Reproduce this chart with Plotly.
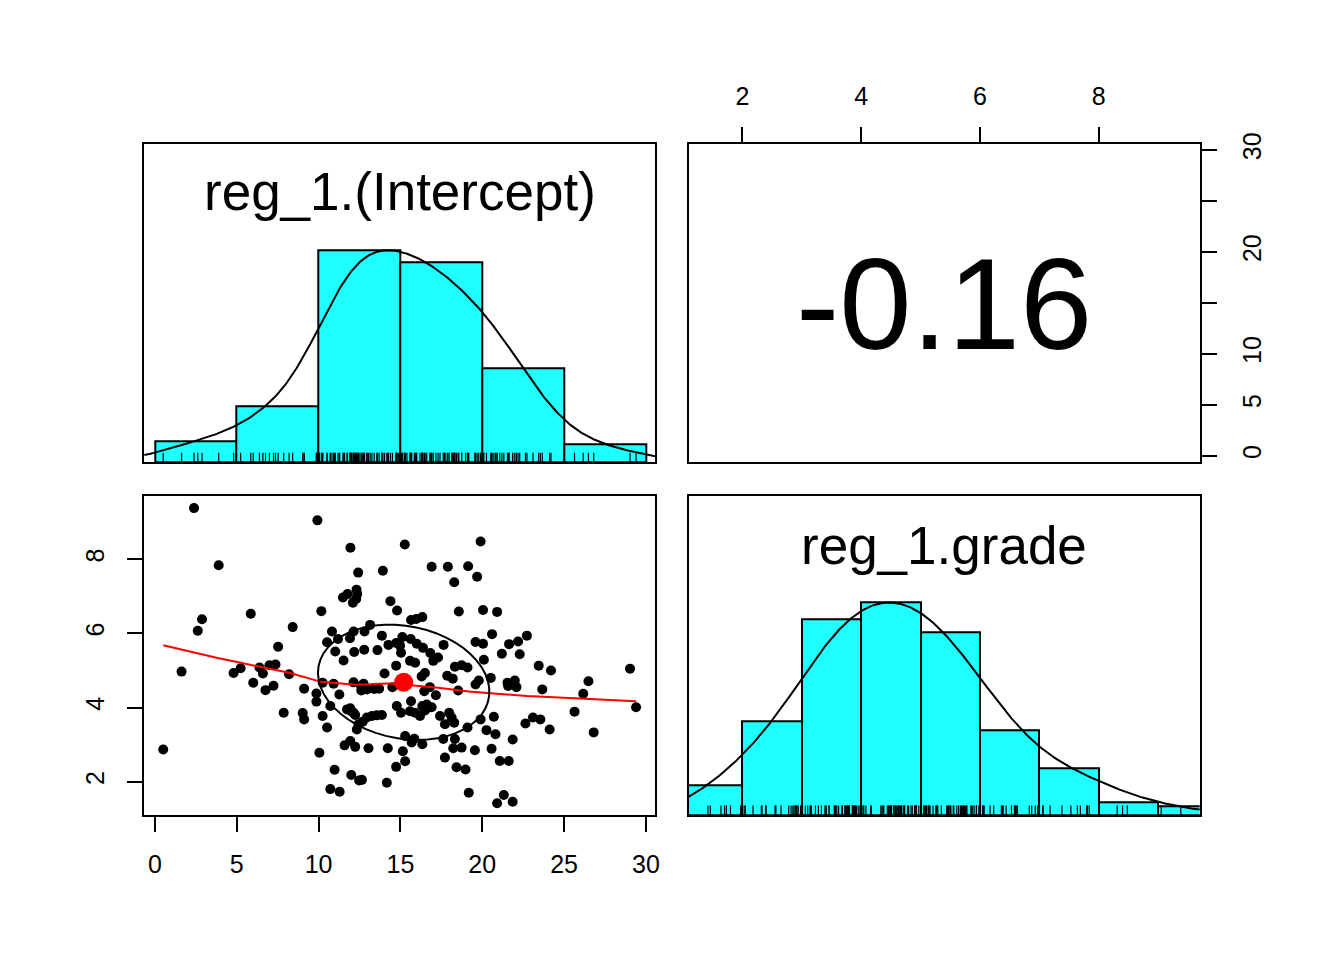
import numpy as np
import plotly.graph_objects as go

# --- values (psych::pairs.panels of two coefficients) ---
LABELS = ["reg_1.(Intercept)", "reg_1.grade"]

INTERCEPT = [
    2.39, 3.90, 2.88, 2.62, 5.86, 8.42, 7.53, 9.93, 11.95, 15.27,
    19.90, 12.42, 13.93, 16.91, 17.90, 19.14, 19.69, 18.29, 11.49, 11.77,
    12.32, 12.36, 12.10, 10.17, 14.39, 14.80, 18.57, 20.05, 15.65, 15.97,
    16.34, 13.15, 10.82, 12.14, 12.81, 10.52, 11.19, 11.92, 13.87, 14.27,
    14.74, 14.98, 15.12, 15.63, 16.38, 17.64, 19.59, 20.05, 11.02, 12.18,
    12.79, 15.04, 16.83, 20.91, 20.60, 21.64, 22.19, 22.73, 22.29, 1.63,
    4.81, 5.24, 6.39, 6.60, 7.00, 7.37, 8.20, 6.01, 6.76, 7.25,
    9.12, 9.87, 9.87, 7.87, 9.03, 9.12, 0.51, 10.05, 11.53, 15.59,
    15.90, 17.01, 14.74, 18.33, 18.74, 19.10, 14.03, 16.30, 16.50, 17.86,
    19.59, 19.79, 10.25, 10.92, 12.14, 12.61, 12.97, 13.40, 12.75, 14.51,
    16.46, 17.17, 18.53, 10.72, 11.27, 11.74, 11.94, 12.14, 12.24, 12.44,
    12.34, 12.95, 13.26, 13.56, 13.87, 14.78, 15.04, 15.65, 15.59, 15.90,
    16.20, 16.34, 16.61, 16.91, 17.42, 17.98, 18.13, 18.29, 17.72, 19.10,
    19.90, 10.25, 10.52, 15.29, 15.69, 15.85, 16.34, 17.62, 18.33, 18.23,
    18.74, 19.55, 11.59, 11.94, 12.24, 13.05, 14.23, 15.15, 15.29, 14.74,
    17.72, 18.43, 18.98, 10.98, 12.00, 12.48, 12.65, 14.17, 10.72, 11.29,
    19.18, 20.10, 23.45, 24.20, 29.03, 20.52, 21.54, 21.99, 22.09, 21.58,
    23.67, 26.49, 26.17, 29.40, 25.64, 20.71, 22.64, 23.10, 23.55, 24.12,
    26.81, 20.26, 20.81, 21.86, 20.57, 21.07, 21.62, 21.32, 20.91, 21.86,
    12.30, 13.70, 12.00, 14.90, 15.40, 16.80, 18.20, 12.60, 16.00, 17.30,
    13.60, 21.20, 12.70, 16.50,
]

GRADE = [
    9.38, 7.84, 6.38, 6.07, 6.53, 6.17, 5.64, 9.05, 8.31, 8.40,
    8.48, 7.64, 7.69, 7.80, 7.80, 7.81, 7.53, 7.38, 6.97, 7.06,
    7.18, 7.06, 6.83, 6.60, 6.87, 6.62, 6.59, 6.63, 6.36, 6.39,
    6.44, 6.23, 6.05, 6.05, 6.05, 5.76, 5.85, 5.87, 5.94, 5.69,
    5.74, 5.67, 5.90, 5.85, 5.61, 5.69, 5.77, 5.72, 5.51, 5.50,
    5.56, 5.48, 5.47, 6.58, 5.98, 5.71, 5.78, 5.94, 5.44, 4.97,
    4.93, 5.06, 5.08, 4.92, 5.14, 5.16, 4.90, 4.67, 4.47, 4.59,
    4.51, 4.38, 4.16, 3.86, 3.85, 3.68, 2.87, 2.78, 5.27, 5.26,
    5.21, 5.26, 5.13, 5.10, 5.14, 5.08, 4.92, 4.84, 4.93, 4.86,
    4.62, 4.73, 4.67, 4.64, 4.68, 4.46, 4.49, 4.50, 4.64, 4.55,
    4.44, 4.33, 4.46, 4.04, 4.35, 3.95, 3.98, 3.86, 3.80, 3.55,
    3.41, 3.73, 3.77, 3.79, 3.80, 4.04, 3.86, 4.17, 3.90, 3.86,
    3.77, 4.04, 4.08, 4.01, 3.77, 3.86, 3.73, 3.59, 3.55, 3.46,
    3.68, 3.77, 3.46, 3.23, 3.06, 3.16, 3.01, 3.15, 3.15, 2.90,
    2.92, 2.85, 2.98, 3.10, 2.94, 2.90, 2.90, 2.82, 2.55, 2.40,
    2.65, 2.39, 2.33, 2.32, 2.18, 2.03, 2.05, 1.97, 1.80, 1.73,
    1.70, 5.29, 5.13, 5.00, 5.05, 4.80, 4.67, 4.73, 4.55, 4.58,
    4.49, 4.71, 4.37, 4.01, 3.89, 3.75, 3.57, 3.73, 3.68, 3.41,
    3.33, 3.39, 3.28, 3.14, 2.89, 2.56, 2.56, 1.64, 1.42, 1.46,
    6.93, 4.51, 3.90, 4.62, 4.72, 4.55, 4.78, 4.58, 5.72, 5.35,
    5.55, 5.45, 3.62, 3.92,
]

INTERCEPT_BREAKS = [0, 5, 10, 15, 20, 25, 30]
GRADE_BREAKS = [1, 2, 3, 4, 5, 6, 7, 8, 9, 10]
CORRELATION = -0.16

INTERCEPT_TICKS = [0, 5, 10, 15, 20, 25, 30]
GRADE_TICKS = [2, 4, 6, 8]
RIGHT_TICK_TEXT = ["0", "5", "10", "", "20", "", "30"]

HIST_COL = "#20FFFF"
FONT = "Liberation Sans, Arial, Helvetica, sans-serif"
PAD = 8  # default body margin of the page
W, H = 1344 - PAD, 960 - PAD


def px_x(p):
    return (p - PAD) / W


def px_y(p):
    return 1 - (p - PAD) / H


def pad_range(v):
    v = np.asarray(v, float)
    span = v.max() - v.min()
    return [v.min() - 0.04 * span, v.max() + 0.04 * span]


def hist_counts(values, breaks):
    # R style: right-closed bins, lowest included
    v = np.asarray(values, float)
    b = np.asarray(breaks, float)
    idx = np.searchsorted(b, v, side="left") - 1
    idx[v == b[0]] = 0
    return np.bincount(idx, minlength=len(b) - 1)


def density_curve(values, adjust=1.2, n=512, cut=3):
    v = np.asarray(values, float)
    q1, q3 = np.percentile(v, [25, 75])
    bw = 1.06 * min(v.std(ddof=1), (q3 - q1) / 1.34) * len(v) ** -0.2 * adjust
    grid = np.linspace(v.min() - cut * bw, v.max() + cut * bw, n)
    dens = np.exp(-0.5 * ((grid[:, None] - v[None, :]) / bw) ** 2).sum(axis=1)
    return grid, dens / dens.max()


def lowess(x, y, f=2 / 3, iters=3):
    order = np.argsort(x, kind="stable")
    x = np.asarray(x, float)[order]
    y = np.asarray(y, float)[order]
    n = len(x)
    ns = max(2, min(n, int(f * n + 1e-7)))
    rob = np.ones(n)
    fit = np.zeros(n)
    xr = x.max() - x.min()
    for it in range(iters + 1):
        for i in range(n):
            d = np.abs(x - x[i])
            h = np.sort(d)[ns - 1]
            w = np.zeros(n)
            if h > 0:
                u = d / h
                inside = u < 0.999
                w[inside] = (1 - u[inside] ** 3) ** 3
                w[d <= 0.001 * h] = 1.0
            else:
                w[d == 0] = 1.0
            w = w * rob
            if w.sum() <= 0:
                fit[i] = y[i]
                continue
            w = w / w.sum()
            a = (w * x).sum()
            c = (w * (x - a) ** 2).sum()
            if h > 0 and np.sqrt(c) > 0.001 * xr:
                b = (x[i] - a) / c
                w = w * (b * (x - a) + 1)
            fit[i] = (w * y).sum()
        if it == iters:
            break
        res = y - fit
        cmad = 6 * np.median(np.abs(res))
        if cmad == 0:
            break
        r = np.abs(res) / cmad
        rob = np.where(r < 1, (1 - r ** 2) ** 2, 0.0)
    return x, fit


def cor_ellipse(xm, ym, xs, ys, r, segments=51):
    ang = np.arange(segments + 1) * 2 * np.pi / segments
    circle = np.column_stack([np.cos(ang), np.sin(ang)])
    theta = np.sign(r) / np.sqrt(2) if r != 0 else 1 / np.sqrt(2)
    shape = np.diag([np.sqrt(1 + r), np.sqrt(1 - r)]) @ np.array(
        [[theta, theta], [-theta, theta]]
    )
    e = circle @ shape
    return e[:, 0] * xs + xm, e[:, 1] * ys + ym


def rug_segments(values, height):
    xs, ys = [], []
    for v in values:
        xs += [v, v, None]
        ys += [0, height, None]
    return xs, ys


x_int = np.asarray(INTERCEPT, float)
y_grd = np.asarray(GRADE, float)
int_range = pad_range(x_int)
grd_range = pad_range(y_grd)

fig = go.Figure()


def add_hist_panel(values, breaks, xa, ya):
    counts = hist_counts(values, breaks)
    b = np.asarray(breaks, float)
    fig.add_trace(
        go.Bar(
            x=(b[:-1] + b[1:]) / 2,
            y=counts / counts.max(),
            width=np.diff(b),
            marker=dict(color=HIST_COL, line=dict(color="black", width=2)),
            xaxis=xa,
            yaxis=ya,
            hoverinfo="skip",
        )
    )
    gx, gy = density_curve(values)
    fig.add_trace(
        go.Scatter(
            x=gx, y=gy, mode="lines", line=dict(color="black", width=2),
            xaxis=xa, yaxis=ya, hoverinfo="skip",
        )
    )
    rx, ry = rug_segments(values, 0.045)
    fig.add_trace(
        go.Scatter(
            x=rx, y=ry, mode="lines", line=dict(color="black", width=1.2),
            xaxis=xa, yaxis=ya, hoverinfo="skip",
        )
    )


# diagonal: histograms + density + rug
add_hist_panel(x_int, INTERCEPT_BREAKS, "x", "y")
add_hist_panel(y_grd, GRADE_BREAKS, "x4", "y4")

# lower panel: scatter, lowess, mean point, correlation ellipse
fig.add_trace(
    go.Scatter(
        x=x_int, y=y_grd, mode="markers",
        marker=dict(color="black", size=10, line=dict(width=0)),
        xaxis="x3", yaxis="y3",
    )
)
lx, ly = lowess(x_int, y_grd)
fig.add_trace(
    go.Scatter(x=lx, y=ly, mode="lines", line=dict(color="red", width=2),
               xaxis="x3", yaxis="y3", hoverinfo="skip")
)
xm, ym = x_int.mean(), y_grd.mean()
r = np.corrcoef(x_int, y_grd)[0, 1]
fig.add_trace(
    go.Scatter(x=[xm], y=[ym], mode="markers",
               marker=dict(color="red", size=19, line=dict(width=0)),
               xaxis="x3", yaxis="y3")
)
ex, ey = cor_ellipse(xm, ym, x_int.std(ddof=1), y_grd.std(ddof=1), r)
fig.add_trace(
    go.Scatter(x=ex, y=ey, mode="lines", line=dict(color="black", width=2),
               xaxis="x3", yaxis="y3", hoverinfo="skip")
)

# upper panel: an invisible anchor so the subplot gets drawn
fig.add_trace(
    go.Scatter(
        x=[np.mean(grd_range)], y=[np.mean(int_range)], mode="markers",
        marker=dict(opacity=0), xaxis="x2", yaxis="y2", hoverinfo="skip",
    )
)

# panel placement in pixels -> paper fractions (inner edge of the box)
col_l = [px_x(144.3), px_x(655.0)]
col_r = [px_x(689.0), px_x(1199.7)]
row_t = [px_y(462.3), px_y(144.3)]
row_b = [px_y(815.0), px_y(496.3)]

box = dict(
    showline=True, linecolor="black", linewidth=2, mirror=True,
    showgrid=False, zeroline=False, automargin=False,
)
tick_font = dict(family=FONT, size=25, color="black")
ticked = dict(
    ticks="outside", ticklen=15, tickwidth=2, tickcolor="black",
    tickfont=tick_font,
)
blank = dict(showticklabels=False, ticks="")

fig.update_layout(
    width=W,
    height=H,
    margin=dict(l=0, r=0, t=0, b=0, autoexpand=False),
    paper_bgcolor="white",
    plot_bgcolor="white",
    showlegend=False,
    bargap=0,
    font=dict(family=FONT, color="black"),
    xaxis=dict(domain=col_l, anchor="y", range=int_range, **box, **blank),
    yaxis=dict(domain=row_t, anchor="x", range=[0, 1.5], **box, **blank),
    xaxis2=dict(
        domain=col_r, anchor="y2", side="top", range=grd_range,
        tickvals=GRADE_TICKS, ticklabelstandoff=12, **box, **ticked,
    ),
    yaxis2=dict(
        domain=row_t, anchor="x2", side="right", range=int_range,
        tickvals=INTERCEPT_TICKS, ticktext=RIGHT_TICK_TEXT, tickangle=-90,
        ticklabelstandoff=14, **box, **ticked,
    ),
    xaxis3=dict(
        domain=col_l, anchor="y3", range=int_range,
        tickvals=INTERCEPT_TICKS, ticklabelstandoff=11, **box, **ticked,
    ),
    yaxis3=dict(
        domain=row_b, anchor="x3", range=grd_range,
        tickvals=GRADE_TICKS, tickangle=-90, ticklabelstandoff=13,
        **box, **ticked,
    ),
    xaxis4=dict(domain=col_r, anchor="y4", range=grd_range, **box, **blank),
    yaxis4=dict(domain=row_b, anchor="x4", range=[0, 1.5], **box, **blank),
)

# diagonal labels
fig.add_annotation(
    text=LABELS[0], x=px_x(399.7), y=px_y(191.5), xref="paper", yref="paper",
    showarrow=False, font=dict(family=FONT, size=53, color="black"),
    xanchor="center", yanchor="middle",
)
fig.add_annotation(
    text=LABELS[1], x=px_x(944.3), y=px_y(545.5), xref="paper", yref="paper",
    showarrow=False, font=dict(family=FONT, size=53, color="black"),
    xanchor="center", yanchor="middle",
)
# the correlation, centred in the upper panel
fig.add_annotation(
    text=f"{CORRELATION:.2f}", x=0.5, y=0.5,
    xref="x2 domain", yref="y2 domain", showarrow=False, yshift=-1,
    font=dict(family=FONT, size=130, color="black"),
    xanchor="center", yanchor="middle",
)

fig.write_html("out.html", config={"displayModeBar": False})
